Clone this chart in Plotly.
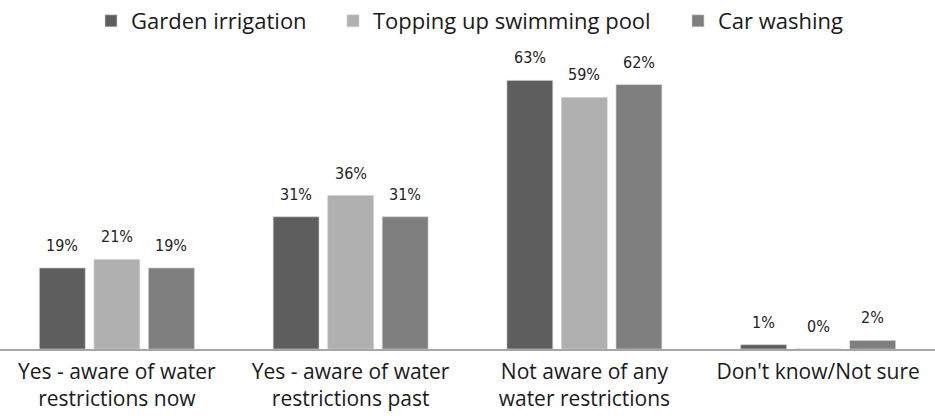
import plotly.graph_objects as go

categories = [
    "Yes - aware of water<br>restrictions now",
    "Yes - aware of water<br>restrictions past",
    "Not aware of any<br>water restrictions",
    "Don't know/Not sure",
]
series_names = ["Garden irrigation", "Topping up swimming pool", "Car washing"]
garden_irrigation = [19, 31, 63, 1]
topping_up_pool = [21, 36, 59, 0]
car_washing = [19, 31, 62, 2]
series_values = [garden_irrigation, topping_up_pool, car_washing]
colors = ["#5e5e5e", "#b0b0b0", "#7e7e7e"]

BARGAP = 0.3
PLOT_W = 935
cat_w = PLOT_W / len(categories)
slot_w = cat_w * (1 - BARGAP) / len(series_names)

# each series gets its own legend box so the entries can be spaced out
legend_ids = ["legend", "legend2", "legend3"]
legend_x = [91, 333, 678]

fig = go.Figure()
for i, (name, vals, col) in enumerate(zip(series_names, series_values, colors)):
    fig.add_trace(go.Bar(
        x=categories, y=vals, name=name,
        marker=dict(color=col, line=dict(color="#d0d0d0", width=0.6)),
        cliponaxis=False, legend=legend_ids[i], showlegend=True,
    ))
    # value labels above each bar
    for c, v in zip(categories, vals):
        fig.add_annotation(
            x=c, y=v, text=f"{v}%", showarrow=False,
            xshift=(i - 1) * slot_w, yshift=11, yanchor="bottom",
            font=dict(family="DejaVu Sans Condensed", size=16, color="#222222"),
        )

legend_style = dict(orientation="h", xanchor="left", y=1.0, yref="container",
                    yanchor="top", font=dict(size=22), itemwidth=30,
                    bgcolor="rgba(0,0,0,0)", visible=True)
layout_legends = {
    lid: dict(legend_style, x=lx / PLOT_W)
    for lid, lx in zip(legend_ids, legend_x)
}

fig.update_layout(
    width=935, height=418,
    margin=dict(l=0, r=0, t=40, b=69),
    paper_bgcolor="white", plot_bgcolor="white",
    showlegend=True,
    barmode="group", bargap=BARGAP, bargroupgap=0.16,
    font=dict(family="Open Sans", size=21, color="#1a1a1a"),
    xaxis=dict(showline=True, linecolor="#a6a6a6", linewidth=1.5, ticks="",
               tickfont=dict(size=21), showgrid=False, ticklabelstandoff=3),
    yaxis=dict(range=[0, 72], visible=False, showgrid=False),
    **layout_legends,
)

fig.write_html("out.html")
